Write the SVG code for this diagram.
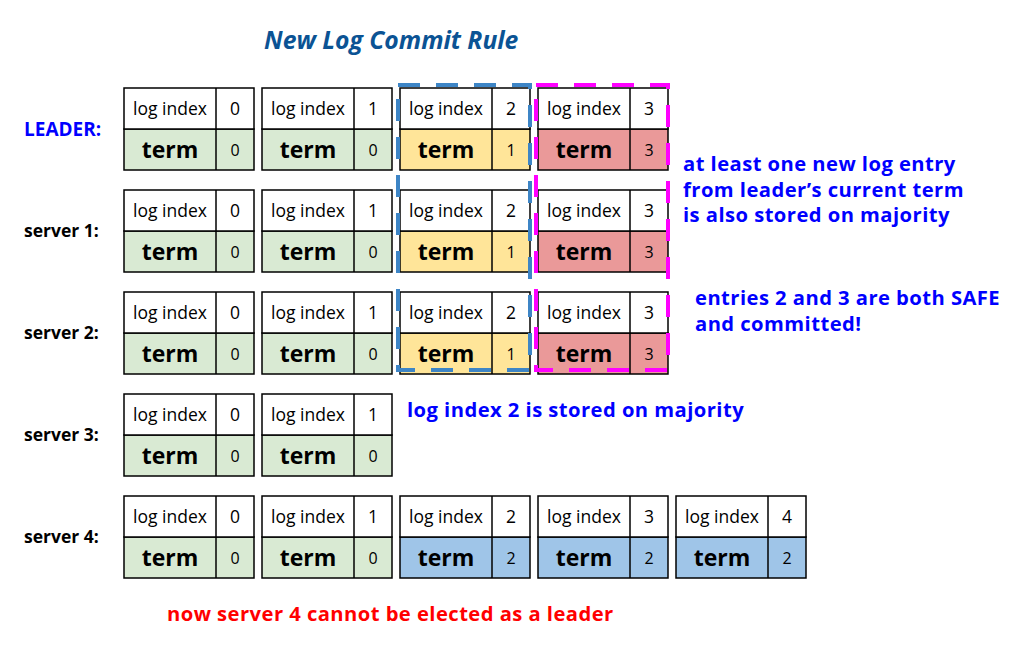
<svg xmlns="http://www.w3.org/2000/svg" width="1028" height="650" viewBox="0 0 1028 650">
<style>
.top{fill:#fff;stroke:#000;stroke-width:1.5}
.bot{stroke:#000;stroke-width:1.5}
.g{fill:#d9ead3}.y{fill:#ffe599}.r{fill:#ea9999}.b{fill:#9fc5e8}
.div{stroke:#000;stroke-width:1.5}
.li{font-family:"Open Sans",sans-serif;font-size:17.5px;fill:#000;text-anchor:middle}
.tn{font-family:"Open Sans",sans-serif;font-size:17.5px;fill:#000;text-anchor:middle}
.tm{font-family:"Open Sans",sans-serif;font-size:23px;font-weight:bold;fill:#000;text-anchor:middle}
.bn{font-family:"Open Sans",sans-serif;font-size:16px;fill:#000;text-anchor:middle}
.lbl{font-family:"Open Sans",sans-serif;font-size:17.5px;font-weight:bold;fill:#000}
.note{font-family:"Open Sans",sans-serif;font-size:20.2px;letter-spacing:0.45px;font-weight:bold;fill:#0000ff}
</style>
<defs>
<g id="cell">
<rect class="top" x="0" y="0" width="130" height="41"/>
<line class="div" x1="92" y1="0" x2="92" y2="82"/>
<text class="li" x="46" y="27">log index</text>
<text class="tm" x="46" y="70">term</text>
</g>
</defs>
<text x="264" y="49" style="font-family:'Open Sans',sans-serif;font-size:24.7px;font-weight:bold;font-style:italic;fill:#0b5394">New Log Commit Rule</text>
<text x="24" y="136" style="font-family:'Open Sans',sans-serif;font-size:19px;font-weight:bold;fill:#0000ff">LEADER:</text>
<text class="lbl" x="24" y="237">server 1:</text>
<text class="lbl" x="24" y="339">server 2:</text>
<text class="lbl" x="24" y="441">server 3:</text>
<text class="lbl" x="24" y="543">server 4:</text>

<g id="leader">
<g transform="translate(124,88)"><rect class="bot g" x="0" y="41" width="130" height="41"/><use href="#cell"/><text class="tn" x="111" y="27">0</text><text class="bn" x="111" y="68">0</text></g>
<g transform="translate(262,88)"><rect class="bot g" x="0" y="41" width="130" height="41"/><use href="#cell"/><text class="tn" x="111" y="27">1</text><text class="bn" x="111" y="68">0</text></g>
<g transform="translate(400,88)"><rect class="bot y" x="0" y="41" width="130" height="41"/><use href="#cell"/><text class="tn" x="111" y="27">2</text><text class="bn" x="111" y="68">1</text></g>
<g transform="translate(538,88)"><rect class="bot r" x="0" y="41" width="130" height="41"/><use href="#cell"/><text class="tn" x="111" y="27">3</text><text class="bn" x="111" y="68">3</text></g>
</g>
<g id="server1">
<g transform="translate(124,190)"><rect class="bot g" x="0" y="41" width="130" height="41"/><use href="#cell"/><text class="tn" x="111" y="27">0</text><text class="bn" x="111" y="68">0</text></g>
<g transform="translate(262,190)"><rect class="bot g" x="0" y="41" width="130" height="41"/><use href="#cell"/><text class="tn" x="111" y="27">1</text><text class="bn" x="111" y="68">0</text></g>
<g transform="translate(400,190)"><rect class="bot y" x="0" y="41" width="130" height="41"/><use href="#cell"/><text class="tn" x="111" y="27">2</text><text class="bn" x="111" y="68">1</text></g>
<g transform="translate(538,190)"><rect class="bot r" x="0" y="41" width="130" height="41"/><use href="#cell"/><text class="tn" x="111" y="27">3</text><text class="bn" x="111" y="68">3</text></g>
</g>
<g id="server2">
<g transform="translate(124,292)"><rect class="bot g" x="0" y="41" width="130" height="41"/><use href="#cell"/><text class="tn" x="111" y="27">0</text><text class="bn" x="111" y="68">0</text></g>
<g transform="translate(262,292)"><rect class="bot g" x="0" y="41" width="130" height="41"/><use href="#cell"/><text class="tn" x="111" y="27">1</text><text class="bn" x="111" y="68">0</text></g>
<g transform="translate(400,292)"><rect class="bot y" x="0" y="41" width="130" height="41"/><use href="#cell"/><text class="tn" x="111" y="27">2</text><text class="bn" x="111" y="68">1</text></g>
<g transform="translate(538,292)"><rect class="bot r" x="0" y="41" width="130" height="41"/><use href="#cell"/><text class="tn" x="111" y="27">3</text><text class="bn" x="111" y="68">3</text></g>
</g>
<g id="server3">
<g transform="translate(124,394)"><rect class="bot g" x="0" y="41" width="130" height="41"/><use href="#cell"/><text class="tn" x="111" y="27">0</text><text class="bn" x="111" y="68">0</text></g>
<g transform="translate(262,394)"><rect class="bot g" x="0" y="41" width="130" height="41"/><use href="#cell"/><text class="tn" x="111" y="27">1</text><text class="bn" x="111" y="68">0</text></g>
</g>
<g id="server4">
<g transform="translate(124,496)"><rect class="bot g" x="0" y="41" width="130" height="41"/><use href="#cell"/><text class="tn" x="111" y="27">0</text><text class="bn" x="111" y="68">0</text></g>
<g transform="translate(262,496)"><rect class="bot g" x="0" y="41" width="130" height="41"/><use href="#cell"/><text class="tn" x="111" y="27">1</text><text class="bn" x="111" y="68">0</text></g>
<g transform="translate(400,496)"><rect class="bot b" x="0" y="41" width="130" height="41"/><use href="#cell"/><text class="tn" x="111" y="27">2</text><text class="bn" x="111" y="68">2</text></g>
<g transform="translate(538,496)"><rect class="bot b" x="0" y="41" width="130" height="41"/><use href="#cell"/><text class="tn" x="111" y="27">3</text><text class="bn" x="111" y="68">2</text></g>
<g transform="translate(676,496)"><rect class="bot b" x="0" y="41" width="130" height="41"/><use href="#cell"/><text class="tn" x="111" y="27">4</text><text class="bn" x="111" y="68">2</text></g>
</g>

<g id="connectors">
<rect x="398" y="85" width="132" height="285" fill="none" stroke="#3d85c6" stroke-width="4" stroke-dasharray="22 16"/>
<rect x="536" y="85" width="132" height="285" fill="none" stroke="#ff00ff" stroke-width="4" stroke-dasharray="22 16"/>
</g>

<text class="note" x="683" y="171">at least one new log entry</text>
<text class="note" x="683" y="196.5">from leader’s current term</text>
<text class="note" x="683" y="222">is also stored on majority</text>
<text class="note" x="695" y="305">entries 2 and 3 are both SAFE</text>
<text class="note" x="695" y="331">and committed!</text>
<text class="note" x="407" y="417">log index 2 is stored on majority</text>
<text x="167" y="621" style="font-family:'Open Sans',sans-serif;font-size:20.2px;letter-spacing:0.45px;font-weight:bold;fill:#ff0000">now server 4 cannot be elected as a leader</text>
</svg>
